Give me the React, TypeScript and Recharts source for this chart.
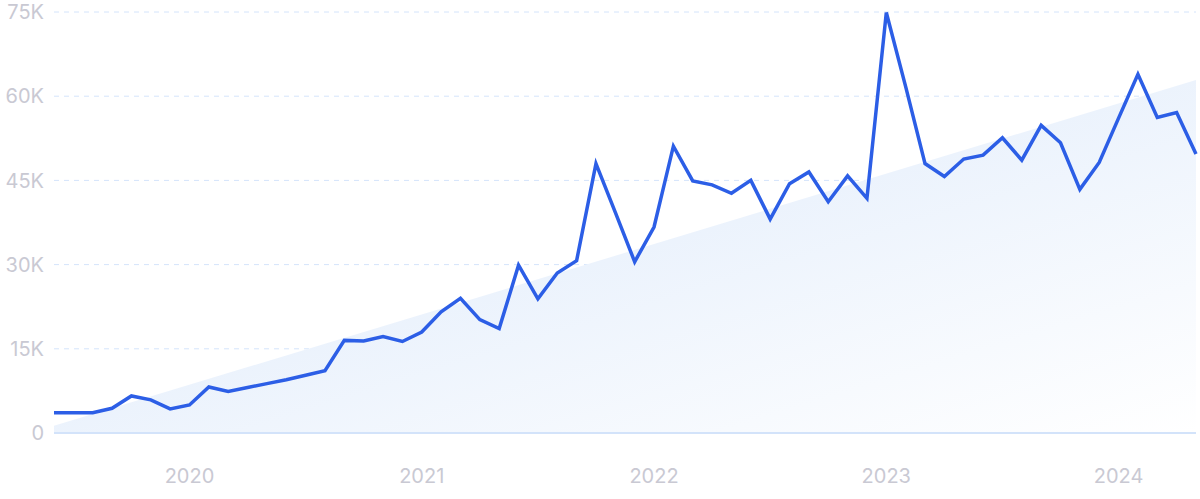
import React from "react";
import {
  ComposedChart,
  Line,
  Area,
  XAxis,
  YAxis,
  CartesianGrid,
} from "recharts";

const months = [
  "2019-06", "2019-07", "2019-08", "2019-09", "2019-10", "2019-11", "2019-12",
  "2020-01", "2020-02", "2020-03", "2020-04", "2020-05", "2020-06", "2020-07",
  "2020-08", "2020-09", "2020-10", "2020-11", "2020-12",
  "2021-01", "2021-02", "2021-03", "2021-04", "2021-05", "2021-06", "2021-07",
  "2021-08", "2021-09", "2021-10", "2021-11", "2021-12",
  "2022-01", "2022-02", "2022-03", "2022-04", "2022-05", "2022-06", "2022-07",
  "2022-08", "2022-09", "2022-10", "2022-11", "2022-12",
  "2023-01", "2023-02", "2023-03", "2023-04", "2023-05", "2023-06", "2023-07",
  "2023-08", "2023-09", "2023-10", "2023-11", "2023-12",
  "2024-01", "2024-02", "2024-03", "2024-04", "2024-05",
];

const volume = [
  3600, 3600, 3600, 4400, 6600, 5900, 4300,
  5000, 8200, 7400, 8100, 8800, 9500, 10300,
  11100, 16500, 16400, 17200, 16300,
  18000, 21600, 24000, 20200, 18600, 29900, 23900,
  28500, 30700, 48000, 39300, 30500,
  36700, 51100, 44900, 44200, 42700, 45000, 38100,
  44400, 46500, 41200, 45800, 41800,
  74900, 61700, 48000, 45700, 48800, 49500, 52600,
  48600, 54800, 51700, 43400, 48200,
  56100, 63900, 56200, 57100, 49700,
];

// trend band: only the two end values, joined straight across
const trendStart = 1300;
const trendEnd = 62900;

const yTicks = [0, 15000, 30000, 45000, 60000, 75000];
const yearTicks = ["2020-01", "2021-01", "2022-01", "2023-01", "2024-01"];

const data = months.map((m, i) => ({
  month: m,
  volume: volume[i],
  trend: i === 0 ? trendStart : i === months.length - 1 ? trendEnd : null,
}));

const tickStyle = { fontSize: 20, fill: "#c9c9d3", fontFamily: "Inter" };

export default function App() {
  return (
    <div style={{ position: "absolute", left: 0, top: 0, width: 1200, height: 499, background: "#fff" }}>
      <ComposedChart
        width={1200}
        height={499}
        data={data}
        margin={{ top: 12, right: 4, bottom: 0, left: 0 }}
      >
        <defs>
          <linearGradient id="trendFill" x1="0" y1="0" x2="1" y2="1">
            <stop offset="0%" stopColor="#d9e7fa" />
            <stop offset="100%" stopColor="#ffffff" />
          </linearGradient>
        </defs>
        <CartesianGrid
          vertical={false}
          strokeDasharray="5 5"
          stroke="#d4e4fb"
        />
        <XAxis
          dataKey="month"
          ticks={yearTicks}
          interval={0}
          tickFormatter={(v: string) => v.slice(0, 4)}
          tickLine={false}
          axisLine={{ stroke: "#d3e3fa", strokeWidth: 2 }}
          tick={tickStyle}
          tickMargin={30}
          height={66}
        />
        <YAxis
          domain={[0, 75000]}
          ticks={yTicks}
          interval={0}
          tickFormatter={(v: number) => (v === 0 ? "0" : `${v / 1000}K`)}
          axisLine={false}
          tickLine={false}
          tick={tickStyle}
          tickMargin={4}
          width={54}
        />
        <Area
          type="linear"
          dataKey="trend"
          connectNulls
          stroke="none"
          fill="url(#trendFill)"
          fillOpacity={1}
          isAnimationActive={false}
        />
        <Line
          type="linear"
          dataKey="volume"
          stroke="#2c5ee6"
          strokeWidth={3.5}
          dot={false}
          isAnimationActive={false}
        />
      </ComposedChart>
    </div>
  );
}
